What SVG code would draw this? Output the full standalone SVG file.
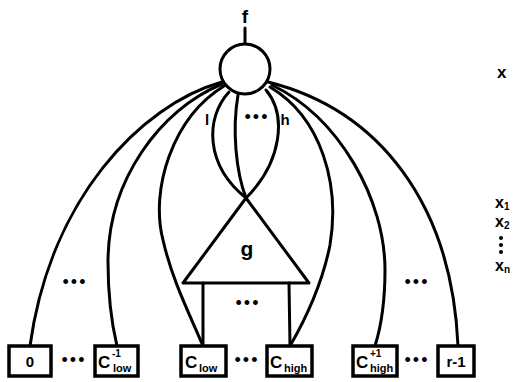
<svg xmlns="http://www.w3.org/2000/svg" width="515" height="382" viewBox="0 0 515 382">
<style>
.ln{fill:none;stroke:#000;stroke-width:3;stroke-linecap:round;stroke-linejoin:round}
.bx{fill:#fff;stroke:#000;stroke-width:3.5}
.t{font-family:"Liberation Sans",Arial,sans-serif;font-weight:bold;fill:#000}
.dots{font-family:"Liberation Sans",Arial,sans-serif;font-size:18px;letter-spacing:2px;fill:#000;text-anchor:middle}
</style>
<rect width="515" height="382" fill="#fff"/>
<g id="connectors">
<line class="ln" x1="245" y1="28" x2="245" y2="43"/>
<path class="ln" d="M222,82 C140,105 50,200 30,346"/>
<path class="ln" d="M222,84 C160,110 108,180 108,262 C108,300 112,325 117,346"/>
<path class="ln" d="M224,86 C172,118 150,190 163,240 C172,280 190,315 203,346"/>
<path class="ln" d="M229,92 C205,118 205,165 246,198"/>
<path class="ln" d="M238,95 C232,130 236,172 246,198"/>
<path class="ln" d="M266,90 C287,115 282,162 246,198"/>
<path class="ln" d="M270,87 C322,118 340,185 330,245 C322,285 305,320 290,346"/>
<path class="ln" d="M272,85 C340,118 385,200 385,270 C385,305 380,330 375,346"/>
<path class="ln" d="M268,82 C380,110 452,205 458,346"/>
<line class="ln" x1="203" y1="283" x2="203" y2="346"/>
<line class="ln" x1="289" y1="283" x2="290" y2="346"/>
</g>
<g id="f">
<circle cx="245" cy="69" r="25" fill="#fff" stroke="#000" stroke-width="3"/>
<text class="t" x="245" y="23" font-size="19" text-anchor="middle">f</text>
</g>
<g id="g">
<polygon class="ln" points="246,198 183,283 309,283"/>
<text class="t" x="247" y="256" font-size="21" text-anchor="middle">g</text>
<text class="dots" x="248" y="309">•••</text>
</g>
<g id="labels">
<text class="t" x="207" y="125" font-size="15" text-anchor="middle">l</text>
<text class="dots" x="257" y="123">•••</text>
<text class="t" x="285" y="125" font-size="15" text-anchor="middle">h</text>
<text class="dots" x="75" y="288">•••</text>
<text class="dots" x="417" y="288">•••</text>
<text class="t" x="497" y="78" font-size="17">x</text>
<text class="t" x="495" y="208" font-size="16">x<tspan font-size="10" dy="2">1</tspan></text>
<text class="t" x="495" y="227" font-size="16">x<tspan font-size="10" dy="2">2</tspan></text>
<circle cx="501" cy="238" r="2"/>
<circle cx="501" cy="245" r="2"/>
<circle cx="501" cy="252" r="2"/>
<text class="t" x="495" y="271" font-size="16">x<tspan font-size="10" dy="2">n</tspan></text>
</g>
<g id="box0">
<rect class="bx" x="9" y="346" width="42" height="30"/>
<text class="t" x="30" y="367" font-size="15" text-anchor="middle">0</text>
</g>
<text class="dots" x="74" y="366">•••</text>
<g id="boxClowm1">
<rect class="bx" x="95" y="346" width="43" height="30"/>
<text class="t" x="98" y="368" font-size="17">C</text>
<text class="t" x="112" y="357" font-size="10">-1</text>
<text class="t" x="113" y="372" font-size="11">low</text>
</g>
<g id="boxClow">
<rect class="bx" x="181" y="346" width="45" height="30"/>
<text class="t" x="185" y="368" font-size="17">C</text>
<text class="t" x="199" y="372" font-size="11">low</text>
</g>
<text class="dots" x="247" y="366">•••</text>
<g id="boxChigh">
<rect class="bx" x="267" y="346" width="45" height="30"/>
<text class="t" x="270" y="368" font-size="17">C</text>
<text class="t" x="284" y="372" font-size="11">high</text>
</g>
<g id="boxChighp1">
<rect class="bx" x="353" y="346" width="44" height="30"/>
<text class="t" x="356" y="368" font-size="17">C</text>
<text class="t" x="370" y="357" font-size="10">+1</text>
<text class="t" x="370" y="372" font-size="11">high</text>
</g>
<text class="dots" x="417" y="366">•••</text>
<g id="boxr1">
<rect class="bx" x="438" y="346" width="36" height="30"/>
<text class="t" x="456" y="367" font-size="15" text-anchor="middle">r-1</text>
</g>
</svg>
